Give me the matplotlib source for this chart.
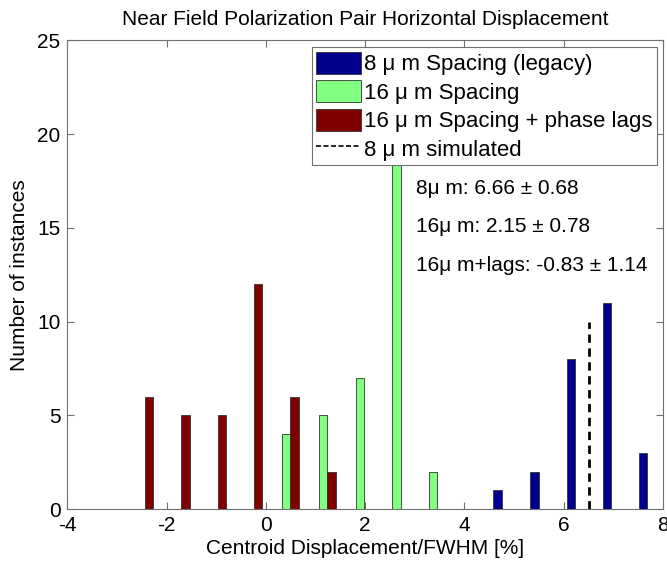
import matplotlib
matplotlib.use("Agg")
import matplotlib.pyplot as plt
from matplotlib.lines import Line2D
from matplotlib.patches import Patch

plt.rcParams['font.family'] = ['Liberation Sans', 'DejaVu Sans']
plt.rcParams['axes.unicode_minus'] = False

# Data
x_8um = [4.67, 5.41, 6.15, 6.87, 7.60]
n_8um = [1, 2, 8, 11, 3]
x_16um = [0.41, 1.15, 1.89, 2.63, 3.37]
n_16um = [4, 5, 7, 20, 2]
x_16lag = [-2.36, -1.62, -0.89, -0.16, 0.58, 1.32]
n_16lag = [6, 5, 5, 12, 6, 2]
sim_x = 6.50
sim_top = 10

legend_labels = ["8 \u03bc m Spacing (legacy)", "16 \u03bc m Spacing",
                 "16 \u03bc m Spacing + phase lags", "8 \u03bc m simulated"]
stats_text = ["8\u03bc m: 6.66 \u00b1 0.68", "16\u03bc m: 2.15 \u00b1 0.78",
              "16\u03bc m+lags: -0.83 \u00b1 1.14"]

c_blue = '#00008F'
c_green = '#80FF80'
c_red = '#800000'
edge = '#333333'
spine = '#707070'
FS = 15

fig = plt.figure(figsize=(6.67, 5.67), dpi=100)
ax = fig.add_axes([0.101, 0.102, 0.893, 0.827])

w = 0.17
ax.bar(x_8um, n_8um, width=w, color=c_blue, edgecolor=edge, linewidth=0.6, zorder=2)
ax.bar(x_16um, n_16um, width=w, color=c_green, edgecolor=edge, linewidth=0.6, zorder=2)
ax.bar(x_16lag, n_16lag, width=w, color=c_red, edgecolor=edge, linewidth=0.6, zorder=2)
ax.plot([sim_x, sim_x], [0, sim_top], color='black', linestyle='--', linewidth=2.0,
        dashes=(3, 2), zorder=3)

ax.set_xlim(-4, 8)
ax.set_ylim(0, 25)
ax.set_xticks([-4, -2, 0, 2, 4, 6, 8])
ax.set_yticks([0, 5, 10, 15, 20, 25])
ax.tick_params(direction='in', top=True, right=True, length=5, width=0.8,
               color=spine, labelsize=FS, pad=5)
for s in ax.spines.values():
    s.set_color(spine)
    s.set_linewidth(0.8)

ax.set_title("Near Field Polarization Pair Horizontal Displacement", fontsize=FS, pad=11)
ax.set_xlabel("Centroid Displacement/FWHM [%]", fontsize=FS, labelpad=3)
ax.set_ylabel("Number of instances", fontsize=FS, labelpad=6)

ys = [17.1, 15.05, 13.0]
for t, yy in zip(stats_text, ys):
    ax.text(3.02, yy, t, fontsize=FS, va='center', ha='left', zorder=4)

handles = [Patch(facecolor=c_blue, edgecolor=edge, linewidth=0.6),
           Patch(facecolor=c_green, edgecolor=edge, linewidth=0.6),
           Patch(facecolor=c_red, edgecolor=edge, linewidth=0.6),
           Line2D([0], [0], color='black', linestyle='--', linewidth=1.2, dashes=(3, 1.5))]
leg = ax.legend(handles, legend_labels, loc='upper right', fontsize=16,
                bbox_to_anchor=(0.99, 0.985), frameon=True, fancybox=False,
                framealpha=1, edgecolor=spine, borderpad=0.2, labelspacing=0.22,
                handlelength=2.0, handleheight=1.15, handletextpad=0.15,
                borderaxespad=0.0)
leg.get_frame().set_linewidth(0.8)
leg.set_zorder(5)

fig.savefig("out.png", dpi=100)
